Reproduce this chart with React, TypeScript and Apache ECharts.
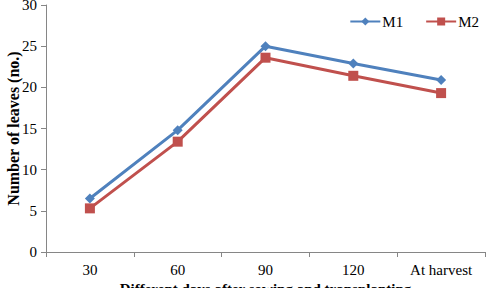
import React, { useEffect, useRef } from "react";
import * as echarts from "echarts";

const categories = ["30", "60", "90", "120", "At harvest"];
const m1 = [6.5, 14.8, 25.0, 22.9, 20.9];
const m2 = [5.3, 13.4, 23.6, 21.4, 19.3];

export default function App() {
  const ref = useRef<HTMLDivElement>(null);
  useEffect(() => {
    const chart = echarts.init(ref.current!, null, { renderer: "svg" });
    const font = "'Liberation Serif', 'Times New Roman', serif";
    chart.setOption({
      animation: false,
      textStyle: { fontFamily: font },
      grid: { left: 46, right: 1, top: 5, bottom: 36, containLabel: false, outerBoundsMode: "none" },
      legend: {
        top: 9,
        right: 2,
        itemWidth: 30,
        itemHeight: 10,
        itemGap: 22,
        textStyle: { fontFamily: font, fontSize: 15, color: "#000", padding: [0, 0, 0, -3] },
        data: ["M1", "M2"],
      },
      xAxis: {
        type: "category",
        data: categories,
        name: "Different days after sowing and transplanting",
        nameLocation: "middle",
        nameGap: 29,
        nameMoveOverlap: false,
        nameTextStyle: { fontFamily: font, fontSize: 15, fontWeight: "bold", color: "#000" },
        axisLine: { lineStyle: { color: "#868686", width: 1 } },
        axisTick: { show: true, length: 5, lineStyle: { color: "#868686" } },
        axisLabel: { fontFamily: font, fontSize: 15, color: "#000", margin: 10 },
      },
      yAxis: {
        type: "value",
        min: 0,
        max: 30,
        interval: 5,
        name: "Number of leaves (no.)",
        nameLocation: "middle",
        nameGap: 25,
        nameMoveOverlap: false,
        nameTextStyle: { fontFamily: font, fontSize: 16, fontWeight: "bold", color: "#000" },
        axisLine: { show: true, lineStyle: { color: "#868686", width: 1 } },
        axisTick: { show: true, length: 5, lineStyle: { color: "#868686" } },
        axisLabel: { fontFamily: font, fontSize: 15, color: "#000", margin: 9 },
        splitLine: { show: false },
      },
      series: [
        {
          name: "M1",
          type: "line",
          data: m1,
          symbol: "diamond",
          symbolSize: 10,
          itemStyle: { color: "#4F81BD" },
          lineStyle: { color: "#4F81BD", width: 3 },
        },
        {
          name: "M2",
          type: "line",
          data: m2,
          symbol: "rect",
          symbolSize: 10,
          itemStyle: { color: "#C0504D" },
          lineStyle: { color: "#C0504D", width: 3 },
        },
      ],
    });
    return () => chart.dispose();
  }, []);
  return (
    <div
      ref={ref}
      style={{ position: "fixed", left: 0, top: 0, width: 486, height: 288, background: "#fff" }}
    />
  );
}
